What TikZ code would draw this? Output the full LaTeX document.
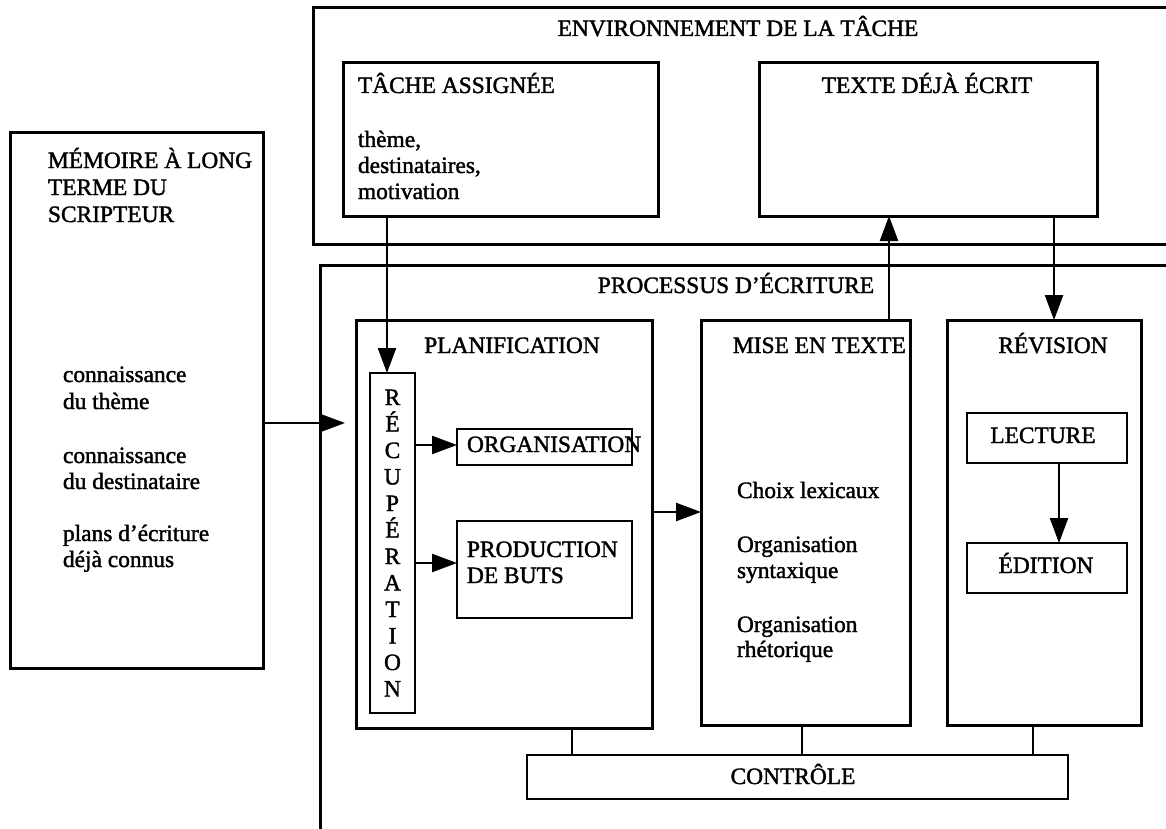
\documentclass[tikz,border=0pt]{standalone}
\usepackage{fontspec}
\setmainfont{Liberation Serif}
\newfontfamily\reffont[FakeBold=1.6]{Liberation Serif}
\usetikzlibrary{arrows.meta,calc}
\begin{document}
\begin{tikzpicture}[x=1pt,y=-1pt,
  box/.style={draw, line width=3pt, inner sep=0pt, outer sep=0pt},
  ibox/.style={draw, line width=2.8pt, inner sep=0pt, outer sep=0pt},
  txt/.style={inner sep=0pt, outer sep=0pt, font=\reffont\fontsize{23.4}{27}\selectfont},
  arr/.style={line width=2.4pt, -{Triangle[length=25pt,width=18pt]}},
  ln/.style={line width=2.4pt}]
\useasboundingbox (0,0) rectangle (1166,829);
\clip (0,0) rectangle (1166,829);
% outer boxes
\node[box, minimum width=253pt, minimum height=535pt] (mem) at (136.5,400.5) {};
\node[box, minimum width=887pt, minimum height=236pt] (env) at (756.5,126) {};
\node[box, minimum width=880pt, minimum height=595pt] (proc) at (760,562.5) {};
\node[box, minimum width=315pt, minimum height=153pt] (tache) at (500.5,139.5) {};
\node[box, minimum width=338pt, minimum height=153pt] (texte) at (928,139.5) {};
\node[box, minimum width=296pt, minimum height=408pt] (plan) at (504,524) {};
\node[ibox, minimum width=45pt, minimum height=340pt] (recup) at (392.5,543) {};
\node[ibox, minimum width=175pt, minimum height=36pt] (org) at (544.5,447) {};
\node[ibox, minimum width=175pt, minimum height=97pt] (prod) at (544.5,569.5) {};
\node[box, minimum width=209pt, minimum height=405pt] (mise) at (805.5,522.5) {};
\node[box, minimum width=194pt, minimum height=405pt] (rev) at (1044,522.5) {};
\node[ibox, minimum width=160pt, minimum height=50pt] (lect) at (1047,438) {};
\node[ibox, minimum width=160pt, minimum height=50pt] (edit) at (1047,568) {};
\node[ibox, minimum width=541pt, minimum height=44pt] (ctrl) at (797.5,777) {};
% texts
\node[txt, anchor=base] (tenv) at (738,36) {ENVIRONNEMENT DE LA TÂCHE};
\node[txt, anchor=base west] (tta) at (358,93) {TÂCHE ASSIGNÉE};
\node[txt, anchor=base west] (tta1) at (358,147) {thème,};
\node[txt, anchor=base west] (tta2) at (358,173) {destinataires,};
\node[txt, anchor=base west] (tta3) at (358,199) {motivation};
\node[txt, anchor=base] (ttx) at (927,93) {TEXTE DÉJÀ ÉCRIT};
\node[txt, anchor=base] (tproc) at (736,293) {PROCESSUS D’ÉCRITURE};
\node[txt, anchor=base west] (tm1) at (48,168) {MÉMOIRE À LONG};
\node[txt, anchor=base west] (tm2) at (48,195) {TERME DU};
\node[txt, anchor=base west] (tm3) at (48,222) {SCRIPTEUR};
\node[txt, anchor=base west] (tk1) at (63,382) {connaissance};
\node[txt, anchor=base west] (tk2) at (63,409) {du thème};
\node[txt, anchor=base west] (tk3) at (63,463) {connaissance};
\node[txt, anchor=base west] (tk4) at (63,489) {du destinataire};
\node[txt, anchor=base west] (tk5) at (63,541) {plans d’écriture};
\node[txt, anchor=base west] (tk6) at (63,567) {déjà connus};
\node[txt, anchor=base] (tplan) at (512,353) {PLANIFICATION};
\foreach \l [count=\i] in {R,É,C,U,P,É,R,A,T,I,O,N}
  \node[txt, anchor=base] (rl\i) at (392.5,{405+26.5*(\i-1)}) {\l};
\node[txt, anchor=base west] (torg) at (467,452) {ORGANISATION};
\node[txt, anchor=base west] (tpr1) at (467,557) {PRODUCTION};
\node[txt, anchor=base west] (tpr2) at (467,583) {DE BUTS};
\node[txt, anchor=base west] (tmise) at (733,353) {MISE EN TEXTE};
\node[txt, anchor=base west] (tc1) at (737,498) {Choix lexicaux};
\node[txt, anchor=base west] (tc2) at (737,552) {Organisation};
\node[txt, anchor=base west] (tc3) at (737,578) {syntaxique};
\node[txt, anchor=base west] (tc4) at (737,632) {Organisation};
\node[txt, anchor=base west] (tc5) at (737,657) {rhétorique};
\node[txt, anchor=base] (trev) at (1053,353) {RÉVISION};
\node[txt, anchor=base] (tlect) at (1043,443) {LECTURE};
\node[txt, anchor=base] (tedit) at (1046,573) {ÉDITION};
\node[txt, anchor=base] (tctrl) at (793,784) {CONTRÔLE};
% connectors
\coordinate (ta) at (387,0);
\draw[arr] (tache.south -| ta) -- (recup.north -| ta);
\coordinate (mt) at (345,423);
\draw[arr] (mem.east |- mt) -- (mt);
\coordinate (ro) at (0,445);
\draw[arr] (recup.east |- ro) -- (org.west |- ro);
\coordinate (rp) at (0,563);
\draw[arr] (recup.east |- rp) -- (prod.west |- rp);
\coordinate (pm) at (0,512);
\draw[arr] (plan.east |- pm) -- (mise.west |- pm);
\coordinate (mx) at (889,0);
\draw[arr] (mise.north -| mx) -- (texte.south -| mx);
\coordinate (tx) at (1054,0);
\draw[arr] (texte.south -| tx) -- (rev.north -| tx);
\coordinate (le) at (1059,0);
\draw[arr] (lect.south -| le) -- (edit.north -| le);
\coordinate (c1) at (572,0);
\draw[ln] (plan.south -| c1) -- (ctrl.north -| c1);
\coordinate (c2) at (802,0);
\draw[ln] (mise.south -| c2) -- (ctrl.north -| c2);
\coordinate (c3) at (1033,0);
\draw[ln] (rev.south -| c3) -- (ctrl.north -| c3);
\end{tikzpicture}
\end{document}
